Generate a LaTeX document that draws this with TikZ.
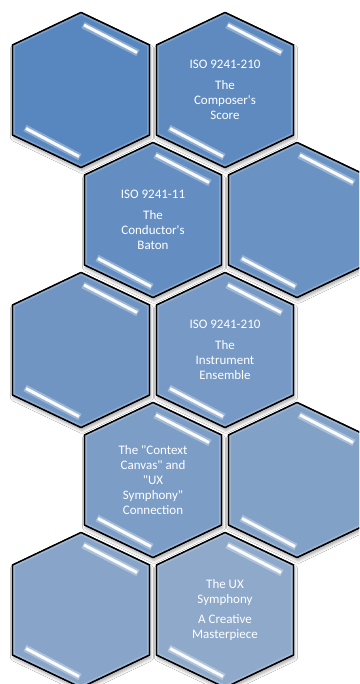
\documentclass[tikz,border=0pt]{standalone}
\usepackage{fontspec}
\setmainfont{Carlito}[Ligatures=TeXOff]
\usetikzlibrary{shadows.blur,calc}
\definecolor{hstart}{HTML}{5886BE}
\definecolor{hend}{HTML}{8EA9CA}
\colorlet{hc1}{hend!0!hstart}
\colorlet{hc2}{hend!11!hstart}
\colorlet{hc3}{hend!22!hstart}
\colorlet{hc4}{hend!33!hstart}
\colorlet{hc5}{hend!44!hstart}
\colorlet{hc6}{hend!55!hstart}
\colorlet{hc7}{hend!66!hstart}
\colorlet{hc8}{hend!77!hstart}
\colorlet{hc9}{hend!88!hstart}
\colorlet{hc10}{hend!100!hstart}
\tikzset{
  hexbody/.style={draw=black, line width=1.3pt, line join=miter,
    blur shadow={shadow xshift=1pt, shadow yshift=-3pt, shadow blur radius=3pt, shadow opacity=35}},
  hexbevel/.style={draw=white, opacity=0.2, line width=5pt},
  glossouter/.style={line width=7pt, opacity=0.5},
  glossinner/.style={draw=white, line width=3pt, opacity=0.95},
  hextext/.style={text=white, align=center, font=\fontsize{13}{15}\selectfont, inner sep=0pt}
}
\newcommand\hexpath[2]{(#1,#2) ++(0,-77.5) -- ++(68.5,32.5) -- ++(0,90) -- ++(-68.5,32.5) -- ++(-68.5,-32.5) -- ++(0,-90) -- cycle}
\newcommand\hexcell[5]{%
  \path[hexbody, fill=#4] \hexpath{#2}{#3};
  \begin{scope}
    \clip \hexpath{#2}{#3};
    \draw[hexbevel] \hexpath{#2}{#3};
  \end{scope}
  \draw[glossouter, draw=#4!40!white] ($(#2,#3)+(2,-65)$) -- ($(#2,#3)+(57,-37)$);
  \draw[glossinner] ($(#2,#3)+(3,-65)$) -- ($(#2,#3)+(56,-37.5)$);
  \draw[glossouter, draw=#4!40!white] ($(#2,#3)+(-56,38)$) -- ($(#2,#3)+(-1,67)$);
  \draw[glossinner] ($(#2,#3)+(-55,38.5)$) -- ($(#2,#3)+(-2,66.5)$);
  \draw[black, line width=1.3pt, line join=miter] \hexpath{#2}{#3};
  \node[hextext] (#1) at (#2,#3) {#5};
}
\begin{document}
\begin{tikzpicture}[x=1pt,y=-1pt]
\useasboundingbox (0,0) rectangle (359,684);
\clip (0,0) rectangle (359,684);
\fill[white] (0,0) rectangle (359,684);
\hexcell{h1}{81}{90}{hc1}{}
\hexcell{h2}{225}{90}{hc2}{ISO 9241-210\\[5.5pt]The\\Composer's\\Score}
\hexcell{h3}{153}{220}{hc3}{ISO 9241-11\\[5.5pt]The\\Conductor's\\Baton}
\hexcell{h4}{297}{220}{hc4}{}
\hexcell{h5}{81}{350}{hc5}{}
\hexcell{h6}{225}{350}{hc6}{ISO 9241-210\\[5.5pt]The\\Instrument\\Ensemble}
\hexcell{h7}{153}{480}{hc7}{The "Context\\Canvas" and\\"UX\\Symphony"\\Connection}
\hexcell{h8}{297}{480}{hc8}{}
\hexcell{h9}{81}{610}{hc9}{}
\hexcell{h10}{225}{610}{hc10}{The UX\\Symphony\\[5.5pt]A Creative\\Masterpiece}
\end{tikzpicture}
\end{document}
